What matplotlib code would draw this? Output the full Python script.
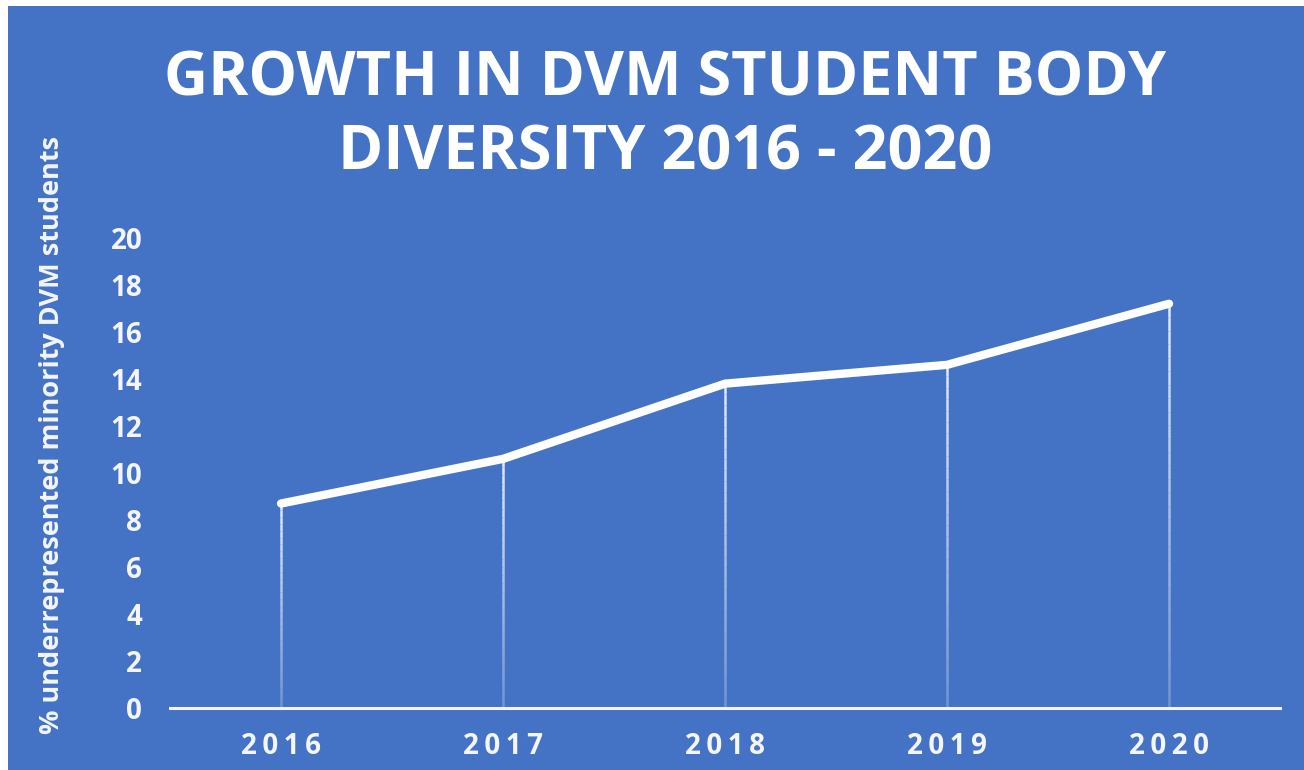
import numpy as np
import matplotlib.pyplot as plt
from matplotlib.patches import Rectangle

years = ['2016', '2017', '2018', '2019', '2020']
pct_urm = [8.7, 10.6, 13.8, 14.6, 17.2]
yticks = [0, 2, 4, 6, 8, 10, 12, 14, 16, 18, 20]

bg = '#4472C4'
fg = '#F4F6FB'
plt.rcParams['font.family'] = ['Open Sans', 'DejaVu Sans']

fig = plt.figure(figsize=(13.04, 7.7), dpi=100, facecolor='white')
# blue panel with a thin light margin on top/left
fig.patches.append(Rectangle((0.006, 0.0), 0.994, 0.992, transform=fig.transFigure,
                             facecolor=bg, edgecolor='none', zorder=-1))

ax = fig.add_axes([0.1304, 0.0805, 0.8512, 0.6105])
ax.set_facecolor('none')

x = np.arange(len(years))
# drop lines, fading out toward the axis
n_seg = 30
for k in range(n_seg):
    f0, f1 = k / n_seg, (k + 1) / n_seg
    ax.vlines(x, np.array(pct_urm) * f0, np.array(pct_urm) * f1, color=fg,
              linewidth=1.8, alpha=0.25 + 0.65 * f1, zorder=2)
ax.plot(x, pct_urm, color='white', linewidth=6, solid_capstyle='round',
        solid_joinstyle='round', zorder=3)

ax.set_xlim(-0.5, 4.5)
ax.set_ylim(0, 20)
ax.set_xticks(x)
ax.set_xticklabels(['\u2009'.join(y) for y in years])
ax.set_yticks(yticks)

for s in ['top', 'right', 'left']:
    ax.spines[s].set_visible(False)
ax.spines['bottom'].set_color(fg)
ax.spines['bottom'].set_linewidth(2.2)

ax.tick_params(axis='both', length=0, labelcolor=fg)
ax.tick_params(axis='x', pad=17, labelsize=20)
ax.tick_params(axis='y', pad=20, labelsize=20)
for lab in ax.get_xticklabels():
    lab.set_fontweight('bold')
for lab in ax.get_yticklabels():
    lab.set_fontweight('bold')

ax.set_ylabel('% underrepresented minority DVM students', color=fg,
              fontsize=19.5, fontweight='bold')
ax.yaxis.set_label_coords(-0.0946, 0.58)

fig.text(0.51, 0.848, 'GROWTH IN DVM STUDENT BODY\nDIVERSITY 2016 - 2020',
         ha='center', va='center', color='white', fontsize=44,
         fontweight='bold', linespacing=1.3)

fig.savefig('out.png', dpi=100, facecolor=fig.get_facecolor())
